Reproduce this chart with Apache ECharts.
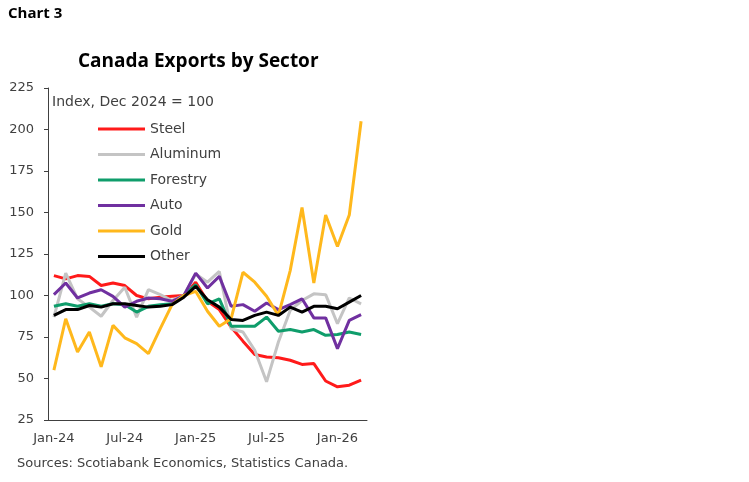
<!DOCTYPE html>
<html>
<head>
<meta charset="utf-8">
<script src="https://cdn.jsdelivr.net/npm/echarts@6/dist/echarts.min.js"></script>
<style>
html,body{margin:0;padding:0;background:#fff;}
#chart{width:749px;height:482px;}
</style>
</head>
<body>
<div id="chart"></div>
<script>
const months = ["Jan-24","Feb-24","Mar-24","Apr-24","May-24","Jun-24","Jul-24","Aug-24","Sep-24","Oct-24","Nov-24","Dec-24",
  "Jan-25","Feb-25","Mar-25","Apr-25","May-25","Jun-25","Jul-25","Aug-25","Sep-25","Oct-25","Nov-25","Dec-25",
  "Jan-26","Feb-26","Mar-26"];
const steel    = [112, 110, 112, 111.5, 106, 107.5, 106, 100, 98, 99, 99.5, 100, 108, 96.5, 91.5, 81, 72.5, 64.5, 63, 62.5, 61, 58.5, 59, 48.5, 45, 46, 49];
const aluminum = [87, 113.5, 98, 93, 87.5, 97, 105, 87, 103.5, 100.5, 97, 100, 113, 108, 114.5, 80, 78, 67, 48, 72, 91, 97, 101, 100.5, 83, 98.5, 95];
const forestry = [93.5, 95, 93.5, 95, 93.5, 95, 94.5, 90, 93.5, 94.5, 95, 100, 106.5, 95, 98, 81.5, 81.5, 81.5, 87, 78.5, 79.5, 78, 79.5, 76, 76.5, 78, 76.5];
const auto     = [100.5, 107.5, 98.5, 101.5, 103.5, 99.5, 93, 96.5, 98.5, 98, 96.5, 100, 113.5, 104.5, 111.5, 93.5, 94.5, 90.5, 95.5, 91.5, 94.5, 98, 86.5, 86.5, 68, 85, 88.5];
const gold     = [55, 86, 66, 78, 57, 82, 74.5, 71, 65, 80, 94.5, 100, 102.5, 90.5, 81.5, 86, 114, 108, 99.5, 88, 115, 153, 107.5, 148.5, 129.5, 148.5, 205];
const other    = [88, 91.5, 91.5, 94, 93, 95, 95, 94, 93, 93.5, 94.5, 99, 105.5, 97.5, 93, 85.5, 85, 88, 90, 88, 93, 90, 93.5, 93.5, 92, 96, 100];

const seriesNames = ["Steel","Aluminum","Forestry","Auto","Gold","Other"];
const seriesData = [steel, aluminum, forestry, auto, gold, other];
const colors = ["#ff1a1a","#c4c4c4","#0f9d6b","#7030a0","#ffb81c","#000000"];

const FONT = "DejaVu Sans";
const BFONT = "Open Sans";
const chart = echarts.init(document.getElementById('chart'));
chart.setOption({
  animation: false,
  backgroundColor: '#ffffff',
  color: colors,
  title: [
    {text: 'Chart 3', left: 8, top: 6, padding: 0, textStyle: {fontFamily: BFONT, fontWeight: 'bold', fontSize: 15, color: '#000'}},
    {text: 'Canada Exports by Sector', left: 78, top: 52, padding: 0, textStyle: {fontFamily: BFONT, fontWeight: 'bold', fontSize: 19, color: '#000'}}
  ],
  grid: {left: 48, right: 382, top: 88, bottom: 62, containLabel: false},
  legend: {
    orient: 'vertical', left: 98, top: 119, padding: 0,
    icon: 'rect', itemWidth: 47, itemHeight: 3, itemGap: 5.5,
    textStyle: {fontFamily: FONT, fontSize: 14, color: '#404040', lineHeight: 20},
    data: seriesNames
  },
  graphic: [
    {type: 'text', left: 52, top: 95, style: {text: 'Index, Dec 2024 = 100', font: '14px "DejaVu Sans"', fill: '#404040'}},
    {type: 'text', left: 17, top: 457, style: {text: 'Sources: Scotiabank Economics, Statistics Canada.', font: '13px "DejaVu Sans"', fill: '#404040'}}
  ],
  xAxis: {
    type: 'category', data: months, boundaryGap: true,
    axisLine: {lineStyle: {color: '#404040', width: 1}},
    axisTick: {interval: 5, length: 4, lineStyle: {color: '#404040'}},
    axisLabel: {interval: 5, margin: 12, fontFamily: FONT, fontSize: 13, color: '#404040'},
    splitLine: {show: false}
  },
  yAxis: {
    type: 'value', min: 25, max: 225, interval: 25,
    axisLine: {show: true, lineStyle: {color: '#404040', width: 1}},
    axisTick: {show: true, length: 4, lineStyle: {color: '#404040'}},
    axisLabel: {margin: 14, fontFamily: FONT, fontSize: 13, color: '#404040'},
    splitLine: {show: false}
  },
  series: seriesNames.map((n, i) => ({
    name: n, type: 'line', data: seriesData[i], symbol: 'none',
    lineStyle: {width: 3, color: colors[i]}, itemStyle: {color: colors[i]}
  }))
});
</script>
</body>
</html>
